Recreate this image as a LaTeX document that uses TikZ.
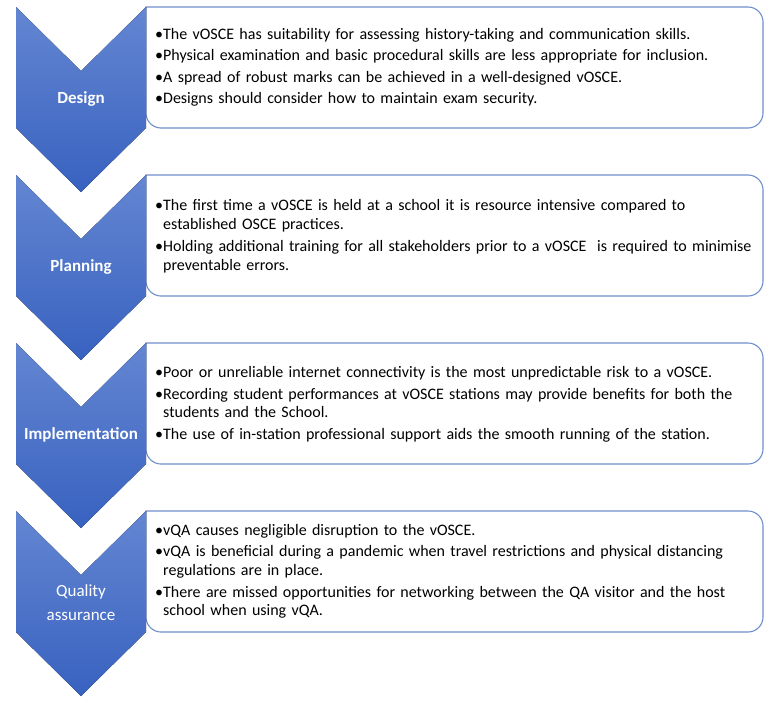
\documentclass[tikz,border=0pt]{standalone}
\usepackage{fontspec}
\setmainfont{Carlito}
\definecolor{chevtop}{RGB}{100,134,210}
\definecolor{chevbot}{RGB}{56,98,192}
\definecolor{cardline}{RGB}{112,142,204}
\newcommand{\bitem}[1]{\par\rightskip=0pt plus 1fil\hangindent=8pt\hangafter=1\noindent\textbullet#1\par}

\begin{document}
\begin{tikzpicture}[x=1pt, y=-1pt,
    chevron/.style={top color=chevtop, bottom color=chevbot},
    card/.style={draw=cardline, line width=1.1pt, fill=white},
    stagename/.style={text=white, align=center, inner sep=0pt, font=\fontsize{17}{24}\selectfont},
    cardtext/.style={anchor=west, inner sep=0pt, text width=625pt, align=left,
        font=\fontsize{16}{18.8}\selectfont, execute at begin node={\setlength{\parskip}{2.8pt}}}]
    \useasboundingbox (0,0) rectangle (767,704);
    \foreach \y/\lbl/\nm in {7/{\textbf{Design}}/design, 175/{\textbf{Planning}}/planning,
        343/{\textbf{Implementation}}/implementation, 511/{Quality\\assurance}/quality} {
        \draw[card] (146,\y) [rounded corners=15pt] -- (763,\y) -- (763,\y+121) -- (146,\y+121) [sharp corners] -- cycle;
        \fill[chevron] (16,\y) -- (81,\y+64) -- (146,\y) -- (146,\y+121) -- (81,\y+185) -- (16,\y+121) -- cycle;
        \node[stagename] (\nm) at (81,\y+92) {\lbl};
    }
    \node[cardtext] (designtext) at (155,62) {%
        \bitem{The vOSCE has suitability for assessing history-taking and communication skills.}
        \bitem{Physical examination and basic procedural skills are less appropriate for inclusion.}
        \bitem{A spread of robust marks can be achieved in a well-designed vOSCE.}
        \bitem{Designs should consider how to maintain exam security.}};
    \node[cardtext] (planningtext) at (155,231) {%
        \bitem{The first time a vOSCE is held at a school it is resource intensive compared to\newline established OSCE practices.}
        \bitem{Holding additional training for all stakeholders prior to a vOSCE \ is required to minimise\newline preventable errors.}};
    \node[cardtext] (implementationtext) at (155,399) {%
        \bitem{Poor or unreliable internet connectivity is the most unpredictable risk to a vOSCE.}
        \bitem{Recording student performances at vOSCE stations may provide benefits for both the\newline students and the School.}
        \bitem{The use of in-station professional support aids the smooth running of the station.}};
    \node[cardtext] (qualitytext) at (155,566) {%
        \bitem{vQA causes negligible disruption to the vOSCE.}
        \bitem{vQA is beneficial during a pandemic when travel restrictions and physical distancing\newline regulations are in place.}
        \bitem{There are missed opportunities for networking between the QA visitor and the host\newline school when using vQA.}};
\end{tikzpicture}
\end{document}
